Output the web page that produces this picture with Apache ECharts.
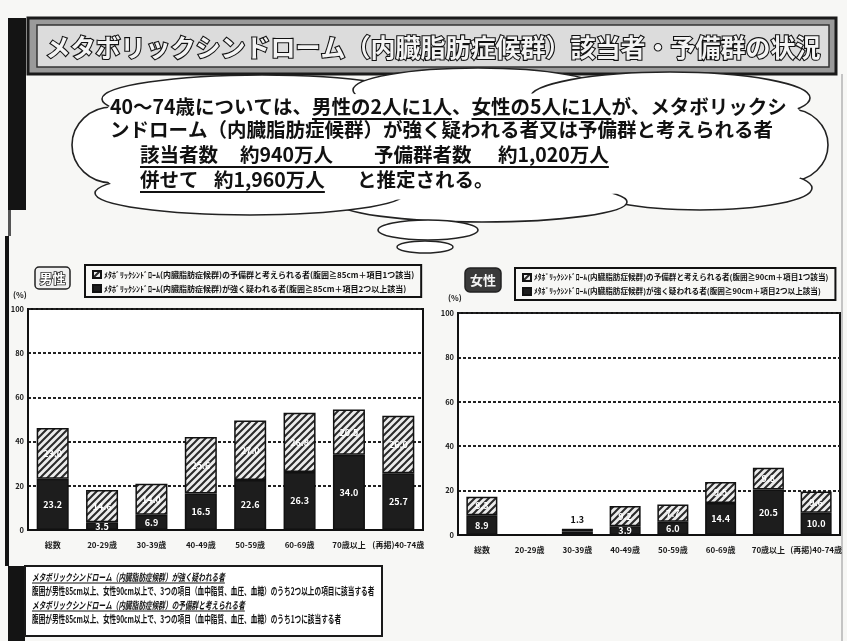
<!DOCTYPE html>
<html><head><meta charset="utf-8">
<script src="https://cdn.jsdelivr.net/npm/echarts@6/dist/echarts.min.js"></script>
<style>html,body{margin:0;padding:0;background:#f7f7f5}#c{width:847px;height:641px}</style>
</head><body><div id="c"></div>
<script>
// ---- data ----
const categories = ['総数','20-29歳','30-39歳','40-49歳','50-59歳','60-69歳','70歳以上','(再掲)40-74歳'];
const maleStrong   = [23.2, 3.5, 6.9, 16.5, 22.6, 26.3, 34.0, 25.7];
const malePre      = [23.0, 14.6, 14.0, 25.6, 27.0, 26.8, 20.5, 26.0];
const femaleStrong = [8.9, 0.0, 1.5, 3.9, 6.0, 14.4, 20.5, 10.0];
const femalePre    = [8.3, 0.0, 1.3, 9.2, 7.7, 9.5, 9.8, 9.6];
const yMin = 0, yMax = 100, yStep = 20;
const maleNames = ['ﾒﾀﾎﾞﾘｯｸｼﾝﾄﾞﾛｰﾑ(内臓脂肪症候群)の予備群と考えられる者(腹囲≧85cm＋項目1つ該当)',
                   'ﾒﾀﾎﾞﾘｯｸｼﾝﾄﾞﾛｰﾑ(内臓脂肪症候群)が強く疑われる者(腹囲≧85cm＋項目2つ以上該当)'];
const femaleNames = ['ﾒﾀﾎﾞﾘｯｸｼﾝﾄﾞﾛｰﾑ(内臓脂肪症候群)の予備群と考えられる者(腹囲≧90cm＋項目1つ該当)',
                     'ﾒﾀﾎﾞﾘｯｸｼﾝﾄﾞﾛｰﾑ(内臓脂肪症候群)が強く疑われる者(腹囲≧90cm＋項目2つ以上該当)'];
const titleText = 'メタボリックシンドローム（内臓脂肪症候群）該当者・予備群の状況';
const cloudLines = [
  {y:107, segs:[['40～74歳については、',0,110],['男性の2人に1人',1],['、',0],['女性の5人に1人',1],['が、メタボリックシ',0]]},
  {y:130, segs:[['ンドローム（内臓脂肪症候群）が強く疑われる者又は予備群と考えられる者',0,110]]},
  {y:155, segs:[['該当者数',1,140],['　',1],['約940万人',1,240],['予備群者数',1,374],['　',1],['約1,020万人',1,498]]},
  {y:180, segs:[['併せて',1,140],['　',1],['約1,960万人',1,214],['と推定される。',0,357]]}
];
const noteLines = [
  ['メタボリックシンドローム（内臓脂肪症候群）が強く疑われる者',1],
  ['腹囲が男性85cm以上、女性90cm以上で、3つの項目（血中脂質、血圧、血糖）のうち2つ以上の項目に該当する者',0],
  ['メタボリックシンドローム（内臓脂肪症候群）の予備群と考えられる者',1],
  ['腹囲が男性85cm以上、女性90cm以上で、3つの項目（血中脂質、血圧、血糖）のうち1つに該当する者',0]
];

// ---- styling helpers ----
const FF = '"Noto Sans CJK JP","Noto Sans CJK SC",sans-serif';
const mctx = document.createElement('canvas').getContext('2d');
function tw(s, font){ mctx.font = font; return mctx.measureText(s).width; }
function hatch(){
  const c = document.createElement('canvas'); c.width = 7; c.height = 7;
  const g = c.getContext('2d');
  g.fillStyle = '#ececec'; g.fillRect(0,0,7,7);
  g.strokeStyle = '#2a2a2a'; g.lineWidth = 2;
  g.beginPath();
  g.moveTo(-1,8); g.lineTo(8,-1);
  g.moveTo(-1,1); g.lineTo(1,-1);
  g.moveTo(6,8); g.lineTo(8,6);
  g.stroke();
  return c;
}
const hatchFill = {image: hatch(), repeat: 'repeat'};
const DARK = '#1d1d1d';

const G = [];
// page frame
G.push({type:'rect', z:0, shape:{x:8,y:18,width:18,height:192}, style:{fill:'#141414'}});
G.push({type:'rect', z:0, shape:{x:5,y:236,width:4,height:330}, style:{fill:'#141414'}});
G.push({type:'rect', z:0, shape:{x:8,y:566,width:17,height:75}, style:{fill:'#141414'}});
G.push({type:'rect', z:0, shape:{x:8,y:210,width:3,height:26}, style:{fill:'#555'}});
G.push({type:'line', z:0, shape:{x1:842,y1:74,x2:842,y2:641}, style:{stroke:'#c4c4c4',lineWidth:2}});
// title banner
G.push({type:'rect', z:1, shape:{x:28,y:18,width:808,height:56}, style:{fill:'#9a9a9a',stroke:'#1a1a1a',lineWidth:3}});
G.push({type:'rect', z:2, shape:{x:37,y:25,width:792,height:42}, style:{fill:'#dcdcdc',stroke:'#333',lineWidth:1.5}});
G.push({type:'text', z:3, x:433, y:47, style:{text:titleText, font:'bold 25px '+FF, fill:'#f4f4f4', stroke:'#111', lineWidth:2.2, align:'center', verticalAlign:'middle', textAlign:'center', textVerticalAlign:'middle'}});

// cloud
const bumps = [[112,145,40,38],[262,99,160,24],[478,90,125,22],[670,98,140,26],[790,145,38,36],[700,188,112,22],[482,202,145,20],[250,193,155,22]];
bumps.forEach(b => G.push({type:'ellipse', z:4, shape:{cx:b[0],cy:b[1],rx:b[2],ry:b[3]}, style:{fill:'#fff',stroke:'#222',lineWidth:1.6}}));
G.push({type:'ellipse', z:5, shape:{cx:450,cy:146,rx:350,ry:54}, style:{fill:'#fff'}});
G.push({type:'rect', z:5, shape:{x:100,y:98,width:705,height:93,r:30}, style:{fill:'#fff'}});
G.push({type:'ellipse', z:4, shape:{cx:428,cy:230,rx:50,ry:10}, style:{fill:'#fff',stroke:'#222',lineWidth:1.5}});
G.push({type:'ellipse', z:4, shape:{cx:425,cy:247,rx:28,ry:6}, style:{fill:'#fff',stroke:'#222',lineWidth:1.5}});
const cloudFont = 'bold 19.5px '+FF;
cloudLines.forEach(L => {
  let x = 0;
  L.segs.forEach(s => {
    if (s[2] !== undefined) x = s[2];
    const w = tw(s[0], cloudFont);
    G.push({type:'text', z:6, x:x, y:L.y, style:{text:s[0], font:cloudFont, fill:'#111', verticalAlign:'middle', textVerticalAlign:'middle'}});
    x += w;
  });
  let ux = null, cx = 0;
  L.segs.forEach((s, i) => {
    if (s[2] !== undefined) cx = s[2];
    const w = tw(s[0], cloudFont);
    if (s[1] && ux === null) ux = cx;
    cx += w;
    const next = L.segs[i+1];
    if (ux !== null && (!next || !next[1])) { G.push({type:'line', z:6, shape:{x1:ux,y1:L.y+12,x2:cx,y2:L.y+12}, style:{stroke:'#111',lineWidth:1.8}}); ux = null; }
  });
});

// panel labels
G.push({type:'rect', z:4, shape:{x:35,y:267,width:35,height:22,r:4}, style:{fill:'#f0f0f0',stroke:'#222',lineWidth:1.5}});
G.push({type:'text', z:5, x:52.5, y:278, style:{text:'男性', font:'bold 13px '+FF, fill:'#fff', stroke:'#222', lineWidth:1.5, align:'center', verticalAlign:'middle', textAlign:'center', textVerticalAlign:'middle'}});
G.push({type:'rect', z:4, shape:{x:465,y:268,width:36,height:24,r:5}, style:{fill:'#3a3a3a',stroke:'#222',lineWidth:1.5}});
G.push({type:'text', z:5, x:483, y:280, style:{text:'女性', font:'bold 13px '+FF, fill:'#f4f4f4', align:'center', verticalAlign:'middle', textAlign:'center', textVerticalAlign:'middle'}});
// % labels
G.push({type:'text', z:5, x:13, y:295, style:{text:'(%)', font:'bold 8px '+FF, fill:'#222', verticalAlign:'middle', textVerticalAlign:'middle'}});
G.push({type:'text', z:5, x:448, y:298, style:{text:'(%)', font:'bold 8px '+FF, fill:'#222', verticalAlign:'middle', textVerticalAlign:'middle'}});

// footnote
G.push({type:'rect', z:4, shape:{x:25,y:566,width:357,height:70}, style:{fill:'#fff',stroke:'#1a1a1a',lineWidth:2}});
const noteScale = 0.665;
noteLines.forEach((n,i) => {
  const y = 577 + i*14;
  const font = (n[1] ? 'italic ' : '') + 'bold 10px ' + FF;
  G.push({type:'text', z:5, x:32, y:y, scaleX:noteScale, style:{text:n[0], font:font, fill:'#111', verticalAlign:'middle', textVerticalAlign:'middle'}});
  if (n[1]) G.push({type:'line', z:5, shape:{x1:32,y1:y+6,x2:32+tw(n[0],font)*noteScale,y2:y+6}, style:{stroke:'#111',lineWidth:1.2}});
});

// ---- chart ----
const axisFont = {fontFamily:FF, fontWeight:'bold', color:'#1a1a1a'};
function yAxis(gi){
  return {type:'value', gridIndex:gi, min:yMin, max:yMax, interval:yStep,
    axisLine:{show:true, lineStyle:{color:'#111', width:2}}, axisTick:{show:false},
    axisLabel:Object.assign({fontSize:7.5, margin:4}, axisFont),
    splitLine:{show:true, lineStyle:{color:'#222', width:2, type:[3,2]}}};
}
function xAxis(gi){
  return {type:'category', gridIndex:gi, data:categories,
    axisLine:{show:true, lineStyle:{color:'#111', width:2}}, axisTick:{show:false},
    axisLabel:Object.assign({fontSize:8, margin:11, interval:0}, axisFont)};
}
const labelFmt = p => (p.value >= 3 ? p.value.toFixed(1) : '');
function barLabel(){ return {show:true, position:'inside', color:'#fff', fontSize:9, fontWeight:'bold', fontFamily:FF, formatter:labelFmt}; }
function smallTop(arr){ return arr.map(v => (v > 0 && v < 3) ? {value:v, label:{show:true, position:'top', color:'#111', formatter: p => p.value.toFixed(1)}} : v); }
function mkSeries(name, data, gi, stack, fill, w){
  return {type:'bar', name:name, data:data, xAxisIndex:gi, yAxisIndex:gi, stack:stack, barWidth:w,
    itemStyle:{color:fill, borderColor:'#111', borderWidth:1.5}, label:barLabel(), emphasis:{disabled:true}};
}
function legendOf(names, left, top, fs){
  return {data:names, left:left, top:top, orient:'vertical', itemGap:5, itemWidth:8, itemHeight:7, icon:'rect',
    borderColor:'#111', borderWidth:2, padding:[5,7,4,7], selectedMode:false,
    textStyle:{fontSize:fs, fontWeight:'bold', color:'#111', fontFamily:FF, padding:[0,0,0,-2]}};
}

const option = {
  animation:false,
  backgroundColor:'#f7f7f5',
  textStyle:{fontFamily:FF},
  grid:[
    {left:28, top:309, width:395, height:221, show:true, borderColor:'#111', borderWidth:2, backgroundColor:'#fff'},
    {left:458, top:313, width:382, height:222, show:true, borderColor:'#111', borderWidth:2, backgroundColor:'#fff'}
  ],
  xAxis:[xAxis(0), xAxis(1)],
  yAxis:[yAxis(0), yAxis(1)],
  legend:[legendOf(maleNames, 85, 265, 8), legendOf(femaleNames, 515, 268, 7.6)],
  series:[
    mkSeries(maleNames[1], maleStrong, 0, 'm', DARK, 32),
    mkSeries(maleNames[0], malePre, 0, 'm', hatchFill, 32),
    mkSeries(femaleNames[1], femaleStrong, 1, 'f', DARK, 31),
    mkSeries(femaleNames[0], smallTop(femalePre), 1, 'f', hatchFill, 31)
  ],
  graphic:{elements:G}
};
const chart = echarts.init(document.getElementById('c'), null, {renderer:'canvas'});
chart.setOption(option);
</script></body></html>
